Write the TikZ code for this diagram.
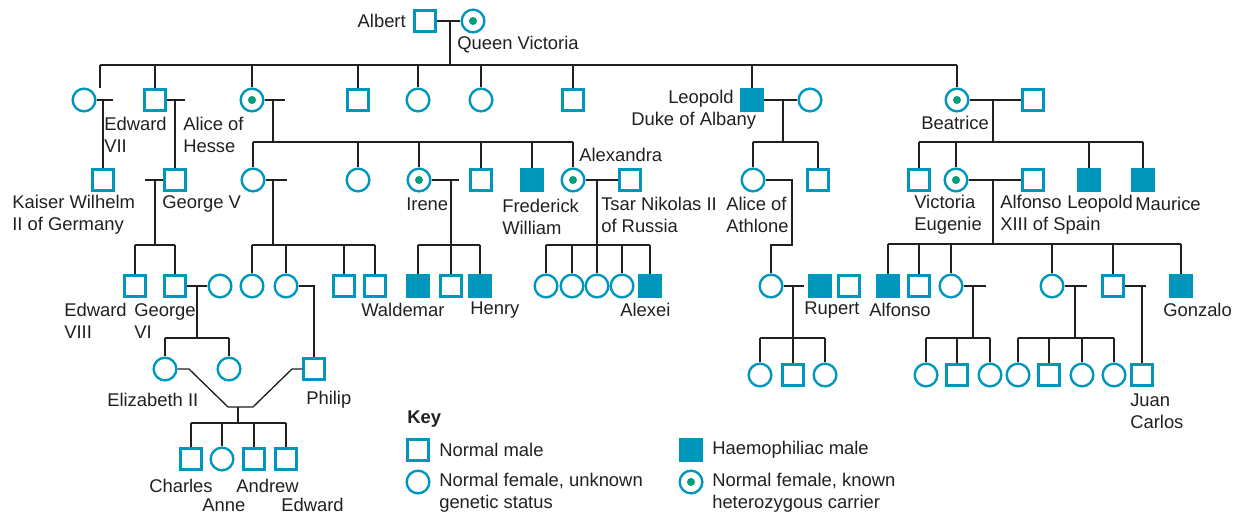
\documentclass[tikz,border=0pt]{standalone}
\usepackage{fontspec}
\setmainfont{Liberation Sans}
\definecolor{SymbolClr}{RGB}{0,151,189}
\definecolor{CarrierClr}{RGB}{0,158,120}
\definecolor{LineClr}{RGB}{35,31,32}

\begin{document}
\begin{tikzpicture}[x=0.75pt,y=-0.75pt,
  male/.style={rectangle,draw=SymbolClr,line width=1.8pt,minimum size=15.5pt,inner sep=0pt},
  haemo/.style={male,fill=SymbolClr},
  female/.style={circle,draw=SymbolClr,line width=1.8pt,minimum size=17pt,inner sep=0pt},
  carrier/.style={female,path picture={\fill[CarrierClr] (path picture bounding box.center) circle (3pt);}},
  kin/.style={draw=LineClr,line width=1pt},
  lbl/.style={inner sep=0pt,text=LineClr,font=\fontsize{13.8}{16.5}\selectfont,align=left}]
\useasboundingbox (0,0) rectangle (1234,514);

% generation I
\node[male] (albert) at (425,21) {};
\node[carrier] (victoria) at (473,21) {};

% generation II
\node[female] (vicky) at (84,100) {};
\node[male] (edward7) at (155,100) {};
\node[carrier] (alice) at (252,100) {};
\node[male] (alfred) at (358,100) {};
\node[female] (helena) at (418,100) {};
\node[female] (louise) at (481,100) {};
\node[male] (arthur) at (573,100) {};
\node[haemo] (leopold) at (752,100) {};
\node[female] (helene) at (810,100) {};
\node[carrier] (beatrice) at (957,100) {};
\node[male] (henryb) at (1033,100) {};

% generation III
\node[male] (wilhelm) at (103,180) {};
\node[male] (georgev) at (175,180) {};
\node[female] (victoriah) at (253,180) {};
\node[female] (ella) at (358,180) {};
\node[carrier] (irene) at (419,180) {};
\node[male] (ernest) at (481,180) {};
\node[haemo] (frederick) at (532,180) {};
\node[carrier] (alexandra) at (573,180) {};
\node[male] (nikolas) at (630,180) {};
\node[female] (aliceath) at (753,180) {};
\node[male] (charlesed) at (818,180) {};
\node[male] (alexb) at (919,180) {};
\node[carrier] (eugenie) at (956,180) {};
\node[male] (alfonso13) at (1033,180) {};
\node[haemo] (leopoldb) at (1089,180) {};
\node[haemo] (maurice) at (1143,180) {};

% generation IV
\node[male] (edward8) at (135,286) {};
\node[male] (george6) at (175,286) {};
\node[female] (elizq) at (220,286) {};
\node[female] (alicebat) at (252,286) {};
\node[female] (louisem) at (286,286) {};
\node[male] (georgem) at (344,286) {};
\node[male] (louism) at (375,286) {};
\node[haemo] (waldemar) at (418,286) {};
\node[male] (sigismund) at (451,286) {};
\node[haemo] (henry) at (480,286) {};
\node[female] (olga) at (546,286) {};
\node[female] (tatiana) at (572,286) {};
\node[female] (maria) at (597,286) {};
\node[female] (anastasia) at (622,286) {};
\node[haemo] (alexei) at (650,286) {};
\node[female] (mayath) at (771,286) {};
\node[haemo] (rupert) at (820,286) {};
\node[male] (maurath) at (849,286) {};
\node[haemo] (alfonso) at (888,286) {};
\node[male] (jaime) at (919,286) {};
\node[female] (beatriz) at (951,286) {};
\node[female] (mariac) at (1052,286) {};
\node[male] (juan) at (1113,286) {};
\node[haemo] (gonzalo) at (1181,286) {};

% generation V
\node[female] (elizabeth) at (165,369) {};
\node[female] (margaret) at (229,369) {};
\node[male] (philip) at (314,369) {};
\node[female] (athA) at (760,375) {};
\node[male] (athB) at (793,375) {};
\node[female] (athC) at (825,375) {};
\node[female] (spA) at (926,375) {};
\node[male] (spB) at (957,375) {};
\node[female] (spC) at (990,375) {};
\node[female] (spD) at (1018,375) {};
\node[male] (spE) at (1049,375) {};
\node[female] (spF) at (1082,375) {};
\node[female] (spG) at (1114,375) {};
\node[male] (juancarlos) at (1142,375) {};

% generation VI
\node[male] (charles) at (191,459) {};
\node[female] (anne) at (222,459) {};
\node[male] (andrew) at (254,459) {};
\node[male] (edwardy) at (286,459) {};

% junctions
\coordinate (vaJ) at (450,21);
\coordinate (sibA) at (450,65);
\coordinate (sibAL) at (100,65);
\coordinate (vickyT) at (100,88);
\coordinate (vickyS) at (113,100);
\coordinate (vickyJ) at (103,100);
\coordinate (edwS) at (185,100);
\coordinate (edwJ) at (175,100);
\coordinate (aliceS) at (285,100);
\coordinate (aliceJ) at (273,100);
\coordinate (aliceB) at (273,142);
\coordinate (leoJ) at (783,100);
\coordinate (leoB) at (783,142);
\coordinate (beaJ) at (993,100);
\coordinate (beaB) at (993,142);
\coordinate (georgeS) at (145,180);
\coordinate (georgeJ) at (155,180);
\coordinate (georgeB) at (155,245);
\coordinate (vhS) at (287,180);
\coordinate (vhJ) at (273,180);
\coordinate (vhB) at (273,245);
\coordinate (ireneS) at (459,180);
\coordinate (ireneJ) at (451,180);
\coordinate (ireneB) at (451,245);
\coordinate (alexJ) at (597,180);
\coordinate (alexB) at (597,245);
\coordinate (athJ) at (792,180);
\coordinate (athT) at (771,245);
\coordinate (eugJ) at (993,180);
\coordinate (eugB) at (993,244);
\coordinate (g6J) at (197,286);
\coordinate (g6B) at (197,338);
\coordinate (louiseC) at (314,286);
\coordinate (mayS) at (804,286);
\coordinate (mayJ) at (793,286);
\coordinate (mayB) at (793,338);
\coordinate (beaS) at (986,286);
\coordinate (beaZJ) at (973,286);
\coordinate (beaZB) at (973,338);
\coordinate (marS) at (1087,286);
\coordinate (marJ) at (1075,286);
\coordinate (marB) at (1075,338);
\coordinate (juanS) at (1146,286);
\coordinate (juanJ) at (1142,286);
\coordinate (epA) at (189,369);
\coordinate (epB) at (228,407);
\coordinate (epC) at (253,407);
\coordinate (epD) at (292,369);
\coordinate (epJ) at (238,407);
\coordinate (epS) at (238,423);

% Victoria and Albert
\draw[kin] (albert) -- (victoria);
\draw[kin] (vaJ) -- (sibA);
\draw[kin] (sibAL) -- (beatrice |- sibA);
\draw[kin] (sibAL) -- (vickyT);
\draw[kin] (edward7 |- sibA) -- (edward7);
\draw[kin] (alice |- sibA) -- (alice);
\draw[kin] (alfred |- sibA) -- (alfred);
\draw[kin] (helena |- sibA) -- (helena);
\draw[kin] (louise |- sibA) -- (louise);
\draw[kin] (arthur |- sibA) -- (arthur);
\draw[kin] (leopold |- sibA) -- (leopold);
\draw[kin] (beatrice |- sibA) -- (beatrice);

% second generation marriages
\draw[kin] (vicky) -- (vickyS);
\draw[kin] (vickyJ) -- (wilhelm);
\draw[kin] (edward7) -- (edwS);
\draw[kin] (edwJ) -- (georgev);
\draw[kin] (alice) -- (aliceS);
\draw[kin] (aliceJ) -- (aliceB);
\draw[kin] (victoriah |- aliceB) -- (alexandra |- aliceB);
\draw[kin] (victoriah |- aliceB) -- (victoriah);
\draw[kin] (ella |- aliceB) -- (ella);
\draw[kin] (irene |- aliceB) -- (irene);
\draw[kin] (ernest |- aliceB) -- (ernest);
\draw[kin] (frederick |- aliceB) -- (frederick);
\draw[kin] (alexandra |- aliceB) -- (alexandra);
\draw[kin] (leopold) -- (helene);
\draw[kin] (leoJ) -- (leoB);
\draw[kin] (aliceath |- leoB) -- (charlesed |- leoB);
\draw[kin] (aliceath |- leoB) -- (aliceath);
\draw[kin] (charlesed |- leoB) -- (charlesed);
\draw[kin] (beatrice) -- (henryb);
\draw[kin] (beaJ) -- (beaB);
\draw[kin] (alexb |- beaB) -- (maurice |- beaB);
\draw[kin] (alexb |- beaB) -- (alexb);
\draw[kin] (eugenie |- beaB) -- (eugenie);
\draw[kin] (leopoldb |- beaB) -- (leopoldb);
\draw[kin] (maurice |- beaB) -- (maurice);

% third generation marriages
\draw[kin] (georgeS) -- (georgev);
\draw[kin] (georgeJ) -- (georgeB);
\draw[kin] (edward8 |- georgeB) -- (george6 |- georgeB);
\draw[kin] (edward8 |- georgeB) -- (edward8);
\draw[kin] (george6 |- georgeB) -- (george6);
\draw[kin] (victoriah) -- (vhS);
\draw[kin] (vhJ) -- (vhB);
\draw[kin] (alicebat |- vhB) -- (louism |- vhB);
\draw[kin] (alicebat |- vhB) -- (alicebat);
\draw[kin] (louisem |- vhB) -- (louisem);
\draw[kin] (georgem |- vhB) -- (georgem);
\draw[kin] (louism |- vhB) -- (louism);
\draw[kin] (irene) -- (ireneS);
\draw[kin] (ireneJ) -- (ireneB);
\draw[kin] (waldemar |- ireneB) -- (henry |- ireneB);
\draw[kin] (waldemar |- ireneB) -- (waldemar);
\draw[kin] (sigismund |- ireneB) -- (sigismund);
\draw[kin] (henry |- ireneB) -- (henry);
\draw[kin] (alexandra) -- (nikolas);
\draw[kin] (alexJ) -- (alexB);
\draw[kin] (olga |- alexB) -- (alexei |- alexB);
\draw[kin] (olga |- alexB) -- (olga);
\draw[kin] (tatiana |- alexB) -- (tatiana);
\draw[kin] (maria |- alexB) -- (maria);
\draw[kin] (anastasia |- alexB) -- (anastasia);
\draw[kin] (alexei |- alexB) -- (alexei);
\draw[kin] (aliceath) -- (athJ) |- (athT) -- (mayath);
\draw[kin] (eugenie) -- (alfonso13);
\draw[kin] (eugJ) -- (eugB);
\draw[kin] (alfonso |- eugB) -- (gonzalo |- eugB);
\draw[kin] (alfonso |- eugB) -- (alfonso);
\draw[kin] (jaime |- eugB) -- (jaime);
\draw[kin] (beatriz |- eugB) -- (beatriz);
\draw[kin] (mariac |- eugB) -- (mariac);
\draw[kin] (juan |- eugB) -- (juan);
\draw[kin] (gonzalo |- eugB) -- (gonzalo);

% fourth generation marriages
\draw[kin] (george6) -- (elizq);
\draw[kin] (g6J) -- (g6B);
\draw[kin] (elizabeth |- g6B) -- (margaret |- g6B);
\draw[kin] (elizabeth |- g6B) -- (elizabeth);
\draw[kin] (margaret |- g6B) -- (margaret);
\draw[kin] (louisem) -- (louiseC) -- (philip);
\draw[kin] (mayath) -- (mayS);
\draw[kin] (mayJ) -- (mayB);
\draw[kin] (athA |- mayB) -- (athC |- mayB);
\draw[kin] (athA |- mayB) -- (athA);
\draw[kin] (athB |- mayB) -- (athB);
\draw[kin] (athC |- mayB) -- (athC);
\draw[kin] (beatriz) -- (beaS);
\draw[kin] (beaZJ) -- (beaZB);
\draw[kin] (spA |- beaZB) -- (spC |- beaZB);
\draw[kin] (spA |- beaZB) -- (spA);
\draw[kin] (spB |- beaZB) -- (spB);
\draw[kin] (spC |- beaZB) -- (spC);
\draw[kin] (mariac) -- (marS);
\draw[kin] (marJ) -- (marB);
\draw[kin] (spD |- marB) -- (spG |- marB);
\draw[kin] (spD |- marB) -- (spD);
\draw[kin] (spE |- marB) -- (spE);
\draw[kin] (spF |- marB) -- (spF);
\draw[kin] (spG |- marB) -- (spG);
\draw[kin] (juan) -- (juanS);
\draw[kin] (juanJ) -- (juancarlos);

% Elizabeth and Philip
\draw[kin] (elizabeth) -- (epA) -- (epB) -- (epC) -- (epD) -- (philip);
\draw[kin] (epJ) -- (epS);
\draw[kin] (charles |- epS) -- (edwardy |- epS);
\draw[kin] (charles |- epS) -- (charles);
\draw[kin] (anne |- epS) -- (anne);
\draw[kin] (andrew |- epS) -- (andrew);
\draw[kin] (edwardy |- epS) -- (edwardy);

% names
\node[lbl,anchor=east] (lAlbert) at (406,21) {Albert};
\node[lbl,anchor=west] (lVictoria) at (457,45) {Queen Victoria};
\node[lbl,anchor=west] (lEdward7) at (104,135) {Edward\\VII};
\node[lbl,anchor=west] (lAlice) at (183,135) {Alice of\\Hesse};
\node[lbl,anchor=east] (lLeopold) at (734,99) {Leopold};
\node[lbl,anchor=west] (lAlbany) at (631,121) {Duke of Albany};
\node[lbl,anchor=west] (lBeatrice) at (921,123) {Beatrice};
\node[lbl,anchor=west] (lWilhelm) at (12,215) {Kaiser Wilhelm\\II of Germany};
\node[lbl,anchor=west] (lGeorgeV) at (162,204) {George V};
\node[lbl,anchor=west] (lIrene) at (406,204) {Irene};
\node[lbl,anchor=west] (lFrederick) at (502,217) {Frederick\\William};
\node[lbl,anchor=west] (lAlexandra) at (579,155) {Alexandra};
\node[lbl,anchor=west] (lNikolas) at (601,215) {Tsar Nikolas II\\of Russia};
\node[lbl,anchor=west] (lAthlone) at (726,215) {Alice of\\Athlone};
\node[lbl,anchor=west] (lEugenie) at (914,215) {Victoria\\Eugenie};
\node[lbl,anchor=west] (lAlfonso13) at (1000,215) {Alfonso\\XIII of Spain};
\node[lbl,anchor=west] (lLeopoldB) at (1067,204) {Leopold};
\node[lbl,anchor=west] (lMaurice) at (1135,204) {Maurice};
\node[lbl,anchor=west] (lEdward8) at (64,321) {Edward\\VIII};
\node[lbl,anchor=west] (lGeorge6) at (134,321) {George\\VI};
\node[lbl,anchor=west] (lWaldemar) at (361,310) {Waldemar};
\node[lbl,anchor=west] (lHenry) at (470,310) {Henry};
\node[lbl,anchor=west] (lAlexei) at (620,310) {Alexei};
\node[lbl,anchor=west] (lRupert) at (804,310) {Rupert};
\node[lbl,anchor=west] (lAlfonso) at (869,310) {Alfonso};
\node[lbl,anchor=west] (lGonzalo) at (1163,310) {Gonzalo};
\node[lbl,anchor=west] (lElizabeth) at (107,400) {Elizabeth II};
\node[lbl,anchor=west] (lPhilip) at (306,400) {Philip};
\node[lbl,anchor=west] (lJuanCarlos) at (1130,411) {Juan\\Carlos};
\node[lbl,anchor=west] (lCharles) at (149,486) {Charles};
\node[lbl,anchor=west] (lAnne) at (202,505) {Anne};
\node[lbl,anchor=west] (lAndrew) at (236,486) {Andrew};
\node[lbl,anchor=west] (lEdwardY) at (281,505) {Edward};

% key
\node[lbl,anchor=west,font=\fontsize{13.8}{16.5}\selectfont\bfseries] (keyTitle) at (407,419) {Key};
\node[male] (keyMale) at (418,450) {};
\node[female] (keyFemale) at (418,482) {};
\node[haemo] (keyHaemo) at (691,450) {};
\node[carrier] (keyCarrier) at (691,482) {};
\node[lbl,anchor=west] (lKeyMale) at (439,450) {Normal male};
\node[lbl,anchor=west] (lKeyFemale) at (439,493) {Normal female, unknown\\genetic status};
\node[lbl,anchor=west] (lKeyHaemo) at (712,450) {Haemophiliac male};
\node[lbl,anchor=west] (lKeyCarrier) at (712,493) {Normal female, known\\heterozygous carrier};

\end{tikzpicture}
\end{document}
